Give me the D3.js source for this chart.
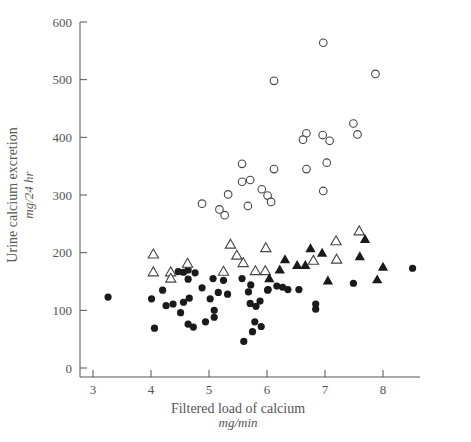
<!DOCTYPE html><html><head><script src="https://cdn.jsdelivr.net/npm/d3@7"></script>
<style>body{margin:0;background:#fff}</style></head><body><svg id="c" width="471" height="442"></svg>
<script>
const xTicks=[3,4,5,6,7,8];
const yTicks=[0,100,200,300,400,500,600];
const openCircles=[[6.97,564],[6.12,498],[7.87,510],[7.49,424],[7.56,405],[6.68,407],[6.62,396],[6.96,404],[7.08,394],[5.57,354],[6.12,345],[6.68,345],[7.03,356],[5.57,323],[5.71,326],[5.91,310],[6.01,299],[6.07,288],[5.33,301],[6.97,307],[4.88,285],[5.18,275],[5.27,265],[5.67,281]];
const openTriangles=[[4.04,196],[4.04,165],[4.34,165],[4.34,154],[4.63,180],[5.37,213],[5.48,194],[5.59,181],[5.98,207],[5.25,166],[5.8,167],[5.97,167],[7.19,219],[7.2,187],[6.8,185],[7.59,236]];
const filledTriangles=[[6.31,187],[6.22,169],[6.04,154],[7.69,222],[6.75,206],[6.95,198],[6.52,177],[6.66,177],[7.6,192],[8.0,174],[7.05,150],[7.9,152]];
const filledCircles=[[3.26,123],[8.51,173],[7.49,147],[6.55,136],[6.36,136],[6.27,140],[6.17,142],[6.02,136],[6.84,111],[6.84,102],[4.01,120],[4.06,69],[4.2,135],[4.26,108],[4.38,111],[4.47,167],[4.56,166],[4.64,170],[4.76,165],[4.64,154],[4.56,114],[4.66,121],[4.51,96],[4.64,76],[4.73,71],[4.88,139],[5.02,120],[5.07,155],[5.25,152],[5.16,131],[5.32,128],[5.09,100],[5.09,88],[4.94,80],[5.57,155],[5.72,144],[5.68,132],[5.71,112],[5.81,107],[5.88,116],[5.79,80],[5.9,72],[5.75,63],[5.6,46],[6.01,135]];
const svg=d3.select("#c");
const x=d3.scaleLinear().domain([3,8]).range([93,383]);
const y=d3.scaleLinear().domain([0,600]).range([368,22]);
const col="#555",font="Liberation Serif, serif";
svg.append("line").attr("x1",80).attr("x2",80).attr("y1",22).attr("y2",377).attr("stroke",col);
svg.append("line").attr("x1",80).attr("x2",420).attr("y1",377).attr("y2",377).attr("stroke",col);
yTicks.forEach(t=>{svg.append("line").attr("x1",80).attr("x2",87).attr("y1",y(t)).attr("y2",y(t)).attr("stroke",col);
 svg.append("text").attr("x",72).attr("y",y(t)+4.5).attr("text-anchor","end").attr("font-family",font).attr("font-size",13).attr("fill",col).text(t);});
xTicks.forEach(t=>{svg.append("line").attr("x1",x(t)).attr("x2",x(t)).attr("y1",377).attr("y2",370).attr("stroke",col);
 svg.append("text").attr("x",x(t)).attr("y",394).attr("text-anchor","middle").attr("font-family",font).attr("font-size",13).attr("fill",col).text(t);});
svg.append("text").attr("transform","translate(17,195) rotate(-90)").attr("text-anchor","middle").attr("font-family",font).attr("font-size",14).attr("fill",col).text("Urine calcium excretion");
svg.append("text").attr("transform","translate(33,195) rotate(-90)").attr("text-anchor","middle").attr("font-family",font).attr("font-style","italic").attr("font-size",13).attr("fill",col).text("mg/24 hr");
svg.append("text").attr("x",238).attr("y",413).attr("text-anchor","middle").attr("font-family",font).attr("font-size",14).attr("fill",col).text("Filtered load of calcium");
svg.append("text").attr("x",238).attr("y",427).attr("text-anchor","middle").attr("font-family",font).attr("font-style","italic").attr("font-size",13).attr("fill",col).text("mg/min");
const tri=d3.symbol().type(d3.symbolTriangle).size(46);
svg.selectAll(".oc").data(openCircles).join("circle").attr("cx",d=>x(d[0])).attr("cy",d=>y(d[1])).attr("r",3.8).attr("fill","white").attr("stroke","#444").attr("stroke-width",1.1);
svg.selectAll(".fc").data(filledCircles).join("circle").attr("cx",d=>x(d[0])).attr("cy",d=>y(d[1])).attr("r",3.6).attr("fill","#1a1a1a");
svg.selectAll(".ot").data(openTriangles).join("path").attr("d",tri).attr("transform",d=>`translate(${x(d[0])},${y(d[1])})`).attr("fill","white").attr("stroke","#444").attr("stroke-width",1.1);
svg.selectAll(".ft").data(filledTriangles).join("path").attr("d",tri).attr("transform",d=>`translate(${x(d[0])},${y(d[1])})`).attr("fill","#1a1a1a");
</script></body></html>
